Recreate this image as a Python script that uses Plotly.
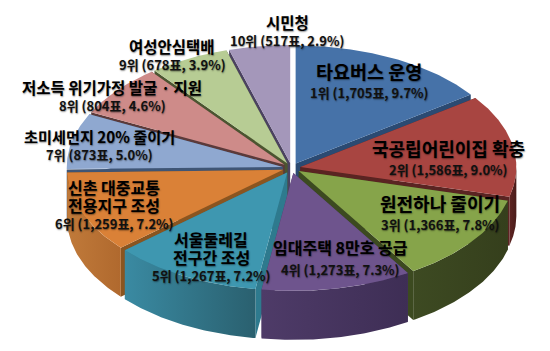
import numpy as np
import plotly.graph_objects as go

names = ["타요버스 운영", "국공립어린이집 확충", "원전하나 줄이기", "임대주택 8만호 공급",
         "서울둘레길<br>전구간 조성", "신촌 대중교통<br>전용지구 조성", "초미세먼지 20% 줄이기",
         "저소득 위기가정 발굴 · 지원", "여성안심택배", "시민청"]
votes = [1705, 1586, 1366, 1273, 1267, 1259, 873, 804, 678, 517]
percents = [9.7, 9.0, 7.8, 7.3, 7.2, 7.2, 5.0, 4.6, 3.9, 2.9]

top_colors = ["#4672A8", "#A84541", "#86A44A", "#6E548D", "#3E97B0",
              "#DA8137", "#8FA8D0", "#CE8B89", "#B7CC94", "#A497BA"]
wall_left = ["#2B4A72", "#5E2422", "#3D4A22", "#4E3B68", "#3A8AA2",
             "#C07A3A", "#5A6E90", "#8A5A58", "#7A8A60", "#6E6480"]
wall_right = ["#2B4A72", "#4A1C1A", "#353F1C", "#3E2E55", "#2A606F",
              "#B0692E", "#5A6E90", "#8A5A58", "#7A8A60", "#6E6480"]
cut_colors = ["#2B4A72", "#5A2422", "#3C4A20", "#4A3862", "#2E7A8E",
              "#8A5520", "#3F5575", "#5B3A3A", "#4B5530", "#4B4260"]

label_x = [369, 448, 440, 340, 211, 114, 99, 112, 172, 287]
head_y = [[71], [148], [203], [247], [239, 257], [187, 205], [136], [87], [46], [22]]
sub_y = [92, 169, 224, 269, 275, 223, 154, 105, 64, 40]
head_size = [18.5, 18, 18, 16, 16, 16, 15.2, 15.5, 15.5, 15.5]

CX, CY = 291.5, 168.0
RX, RY = 216.0, 118.0
EX, EY = 9.0, 5.0
DEPTH = 49.0

fig = go.Figure()


def poly(xs, ys, color=None, grad=None):
    kw = dict(fillcolor=color) if grad is None else dict(
        fillgradient=dict(type="horizontal", colorscale=[[0, grad[0]], [1, grad[1]]]))
    fig.add_trace(go.Scatter(x=xs, y=ys, mode="lines", fill="toself",
                             line=dict(width=0), hoverinfo="skip",
                             showlegend=False, **kw))


total = sum(votes)
edges = np.concatenate([[0], np.cumsum(votes)]) / total * 2 * np.pi
mids = (edges[:-1] + edges[1:]) / 2
order = np.argsort(-np.cos(mids))

for i in order:
    a0, a1 = edges[i], edges[i + 1]
    ox = CX + EX * np.sin(mids[i])
    oy = CY - EY * np.cos(mids[i])
    px = lambda a: ox + RX * np.sin(a)
    py = lambda a: oy - RY * np.cos(a)
    for a in (a0, a1):
        poly([ox, px(a), px(a), ox, ox],
             [oy, py(a), py(a) + DEPTH, oy + DEPTH, oy], color=cut_colors[i])
    lo, hi = max(a0, np.pi / 2), min(a1, 3 * np.pi / 2)
    if hi > lo:
        arc = np.linspace(lo, hi, 60)
        poly(np.r_[px(arc), px(arc)[::-1], px(arc)[0]],
             np.r_[py(arc), py(arc)[::-1] + DEPTH, py(arc)[0]],
             grad=(wall_left[i], wall_right[i]))
    arc = np.linspace(a0, a1, 100)
    poly(np.r_[ox, px(arc), ox], np.r_[oy, py(arc), oy], color=top_colors[i])

annotations = []
shadow = "0.5px 0.5px 1.5px rgba(0,0,0,0.45)"
for i, name in enumerate(names):
    for line, y in zip(name.split("<br>"), head_y[i]):
        annotations.append(dict(x=label_x[i], y=y, text=line, showarrow=False,
                                xanchor="center", yanchor="middle",
                                font=dict(family="Noto Sans CJK KR", size=head_size[i], color="#000", weight=700, shadow=shadow)))
    annotations.append(dict(x=label_x[i], y=sub_y[i],
                            text=f"{i + 1}위 ({votes[i]:,}표, {percents[i]}%)",
                            showarrow=False, xanchor="center", yanchor="middle",
                            font=dict(family="Noto Sans CJK KR", size=13, color="#111", weight=700, shadow=shadow)))

fig.update_layout(
    width=550, height=351, margin=dict(l=0, r=0, t=0, b=0),
    paper_bgcolor="white", plot_bgcolor="white", showlegend=False,
    xaxis=dict(range=[0, 550], visible=False, fixedrange=True),
    yaxis=dict(range=[351, 0], visible=False, fixedrange=True),
    annotations=annotations,
)
fig.write_html("out.html", config=dict(displayModeBar=False),
               post_script="document.body.style.margin='0';document.body.style.overflow='hidden';")
